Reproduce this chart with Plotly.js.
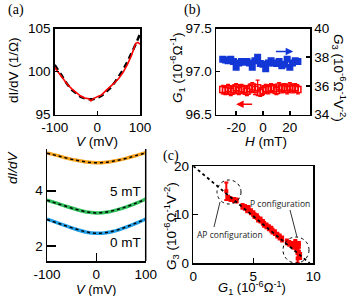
<!DOCTYPE html>
<html><head><meta charset="utf-8">
<script src="https://cdn.plot.ly/plotly-3.0.1.min.js"></script>
<style>html,body{margin:0;padding:0;background:#fff}#c{width:352px;height:296px}</style>
</head><body><div id="c"></div>
<script>
// Panel (a): dI/dV vs V
const aV = [-100,-90,-80,-70,-60,-50,-40,-30,-20,-15,-10,0,10,20,30,40,50,60,70,80,90,95,100];
const aMeas = [100.5,99.8,99.1,98.5,98.0,97.6,97.2,96.95,96.85,96.6,96.85,97.1,97.3,97.8,98.2,98.7,99.2,99.9,100.8,101.9,103.3,103.4,103.2];
const aFitV = [-100,-90,-80,-70,-60,-50,-40,-30,-20,-10,0,10,20,30,40,50,60,70,80,90,100];
const aFit = [100.8,100.0,99.2,98.5,97.9,97.45,97.1,96.9,96.8,96.8,96.95,97.2,97.6,98.1,98.7,99.4,100.2,101.1,102.1,103.2,104.4];
const aXTicks = [-100,0,100], aXText = ["-100","0","100"];
const aYTicks = [95,100,105], aYText = ["95","100","105"];

// Panel (b): G1 and G3 vs H
const bH = [-30,-28,-26,-24,-22,-20,-18,-16,-14,-12,-10,-8,-6,-4,-2,0,2,4,6,8,10,12,14,16,18,20,22,24,26];
const bG1 = [96.79,96.78,96.80,96.77,96.79,96.81,96.78,96.80,96.79,96.77,96.80,96.82,96.79,96.81,96.76,96.78,96.80,96.79,96.81,96.80,96.78,96.82,96.80,96.81,96.79,96.82,96.80,96.81,96.79];
const bG1Err = [0.05,0.05,0.05,0.05,0.05,0.05,0.05,0.05,0.05,0.05,0.05,0.05,0.06,0.09,0.05,0.05,0.05,0.05,0.05,0.05,0.05,0.05,0.05,0.05,0.05,0.05,0.05,0.05,0.05];
const bG3 = [37.85,37.8,37.75,37.85,37.7,37.3,37.6,37.7,37.65,37.7,37.6,37.3,37.75,38.0,37.55,37.5,37.2,37.6,37.75,37.6,37.55,37.7,37.4,37.5,37.85,37.3,37.6,37.75,37.7];
const bXTicks = [-20,0,20], bXText = ["-20","0","20"];
const bY1Ticks = [96.5,97.0,97.5], bY1Text = ["96.5","97.0","97.5"];
const bY2Ticks = [34,36,38,40], bY2Text = ["34","36","38","40"];

// Lower-left: dI/dV curves at several fields
const cV = [-100,-80,-60,-40,-20,0,20,40,60,80,100];
const cBlue = [2.97,2.85,2.72,2.60,2.50,2.46,2.48,2.56,2.68,2.82,2.98];
const cBlueFit = [2.96,2.84,2.72,2.61,2.51,2.46,2.49,2.57,2.69,2.83,2.97];
const cGreen = [3.66,3.55,3.43,3.32,3.23,3.20,3.22,3.30,3.41,3.54,3.70];
const cGreenFit = [3.66,3.54,3.43,3.32,3.24,3.20,3.23,3.31,3.42,3.55,3.69];
const cOrange = [5.37,5.28,5.18,5.10,5.04,5.01,5.03,5.09,5.17,5.27,5.38];
const cOrangeFit = [5.36,5.27,5.18,5.10,5.04,5.01,5.03,5.09,5.17,5.27,5.37];
const cXTicks = [-100,0,100], cXText = ["-100","0","100"];
const cYTicks = [2,4], cYText = ["2","4"];

// Panel (c): G3 vs G1
const dG1 = [2.75,2.9,3.1,3.4,3.6,4.1,4.3,4.5,4.6,4.8,5.0,5.1,5.3,5.4,5.6,5.8,5.9,6.1,6.3,6.5,6.6,6.8,7.0,7.2,7.4,7.8,8.0,8.2,8.4,8.5,8.6,8.7,8.8,8.8,8.9,8.7];
const dG3 = [14.8,13.5,13.2,13.0,12.9,11.7,11.5,11.0,11.3,10.6,10.2,9.8,9.6,9.1,8.9,8.4,8.0,7.7,7.3,7.0,6.6,6.3,5.8,5.4,5.0,4.4,4.1,3.9,3.5,4.3,3.0,2.5,2.0,3.8,1.5,1.0];
const dG3Err = [1.8,0.4,0.4,0.4,0.4,0.5,0.5,0.5,0.5,0.5,0.5,0.5,0.5,0.5,0.5,0.5,0.5,0.5,0.5,0.5,0.5,0.5,0.5,0.5,0.5,0.5,0.5,0.5,0.5,0.5,0.5,0.6,0.6,0.6,0.6,0.9];
const dG1Err = [0.1,0.15,0.15,0.15,0.15,0.15,0.15,0.15,0.15,0.15,0.15,0.15,0.15,0.15,0.15,0.15,0.15,0.15,0.15,0.15,0.15,0.15,0.15,0.15,0.15,0.15,0.15,0.15,0.15,0.15,0.15,0.15,0.15,0.15,0.15,0.15];
const dFitG1 = [0, 9.7], dFitG3 = [20, 0];
const dXTicks = [0,5,10], dXText = ["0","5","10"];
const dYTicks = [0,10,20], dYText = ["0","10","20"];

const F = "Liberation Sans, Arial, sans-serif";
const tf = {family: F, size: 13.5, color: "#000"};
const titleF = {family: F, size: 13.5, color: "#000"};
const titleFs = {family: F, size: 13, color: "#000"};
function ax(extra) {
  return Object.assign({showgrid:false, zeroline:false, showline:true, linecolor:"#000", linewidth:1.5,
    ticks:"inside", ticklen:4, tickwidth:1.5, tickcolor:"#000", tickfont:tf, tickmode:"array", fixedrange:true}, extra);
}

const traces = [
  {x:aFitV, y:aFit, xaxis:"x", yaxis:"y", mode:"lines", line:{color:"#000", width:2.5, dash:"6px,4px"}},
  {x:aV, y:aMeas, xaxis:"x", yaxis:"y", mode:"lines", line:{color:"#ff0000", width:1.6}},

  {x:bH, y:bG3, xaxis:"x2", yaxis:"y5", mode:"markers", marker:{symbol:"square", size:7, color:"#1336d6"}},
  {x:bH, y:bG1, xaxis:"x2", yaxis:"y2", mode:"markers",
    marker:{symbol:"square-open", size:6, color:"#ff0000", line:{width:1.5}},
    error_y:{type:"data", array:bG1Err, visible:true, color:"#ff0000", thickness:1.2, width:2}},

  {x:cV, y:cOrange, xaxis:"x3", yaxis:"y3", mode:"lines", line:{color:"#f5a21c", width:3.5, shape:"spline"}},
  {x:cV, y:cOrangeFit, xaxis:"x3", yaxis:"y3", mode:"lines", line:{color:"#000", width:1.5, dash:"3px,3px", shape:"spline"}},
  {x:cV, y:cGreen, xaxis:"x3", yaxis:"y3", mode:"lines", line:{color:"#2fbf5a", width:3.5, shape:"spline"}},
  {x:cV, y:cGreenFit, xaxis:"x3", yaxis:"y3", mode:"lines", line:{color:"#000", width:1.5, dash:"3px,3px", shape:"spline"}},
  {x:cV, y:cBlue, xaxis:"x3", yaxis:"y3", mode:"lines", line:{color:"#229fe6", width:3.5, shape:"spline"}},
  {x:cV, y:cBlueFit, xaxis:"x3", yaxis:"y3", mode:"lines", line:{color:"#000", width:1.5, dash:"3px,3px", shape:"spline"}},

  {x:dG1, y:dG3, xaxis:"x4", yaxis:"y4", mode:"markers",
    marker:{symbol:"square", size:4, color:"#ff0000"},
    error_y:{type:"data", array:dG3Err, visible:true, color:"#ff0000", thickness:2, width:2},
    error_x:{type:"data", array:dG1Err, visible:true, color:"#ff0000", thickness:2, width:0}},
  {x:dFitG1, y:dFitG3, xaxis:"x4", yaxis:"y4", mode:"lines", line:{color:"#000", width:1.8, dash:"dot"}}
];

function P(px, py){ return {x:px/352, y:1-py/296}; }
function ann(px, py, text, extra){
  const p = P(px, py);
  return Object.assign({xref:"paper", yref:"paper", x:p.x, y:p.y, text:text, showarrow:false,
    xanchor:"center", yanchor:"middle", font:titleF}, extra||{});
}
const it = s => "<i>"+s+"</i>";
const serif = {family:"Liberation Serif, Times New Roman, serif", size:14, color:"#000"};
const smallF = {family:"Open Sans, Noto Sans, sans-serif", size:8.5, color:"#222"};

const layout = {
  width:352, height:296, margin:{l:0,r:0,t:0,b:0}, showlegend:false,
  paper_bgcolor:"#fff", plot_bgcolor:"#fff",
  xaxis: ax({domain:[54.7/352,140/352], anchor:"y", range:[-100,100], mirror:true, tickvals:aXTicks, ticktext:aXText}),
  yaxis: ax({domain:[1-114.7/296,1-28.7/296], anchor:"x", range:[95,105], mirror:true, tickvals:aYTicks, ticktext:aYText}),
  xaxis2: ax({domain:[216/352,310/352], anchor:"y2", range:[-35,35], mirror:true, tickvals:bXTicks, ticktext:bXText}),
  yaxis2: ax({domain:[1-114.5/296,1-28.5/296], anchor:"x2", range:[96.5,97.5], tickvals:bY1Ticks, ticktext:bY1Text}),
  yaxis5: ax({overlaying:"y2", side:"right", anchor:"x2", range:[34,40], tickvals:bY2Ticks, ticktext:bY2Text}),
  xaxis3: ax({domain:[47/352,145.7/352], anchor:"y3", range:[-100,100], ticklen:8, tickvals:cXTicks, ticktext:cXText}),
  yaxis3: ax({domain:[1-261/296,1-149/296], anchor:"x3", range:[1.46,5.51], ticklen:9, tickvals:cYTicks, ticktext:cYText}),
  xaxis4: ax({domain:[193.3/352,313.3/352], anchor:"y4", range:[0,10], mirror:true, ticklen:5, tickvals:dXTicks, ticktext:dXText}),
  yaxis4: ax({domain:[1-263.3/296,1-166/296], anchor:"x4", range:[0,20], mirror:true, ticklen:5, tickvals:dYTicks, ticktext:dYText}),
  shapes:[
    {type:"line", xref:"x3 domain", yref:"y3 domain", x0:1, x1:1, y0:0, y1:1, line:{color:"#000", width:1.5}},
    {type:"circle", xref:"paper", yref:"paper", x0:217/352, x1:241/352, y0:1-204/296, y1:1-180/296, line:{color:"#000", width:1, dash:"dot"}},
    {type:"circle", xref:"paper", yref:"paper", x0:283/352, x1:309/352, y0:1-263/296, y1:1-237/296, line:{color:"#000", width:1, dash:"dot"}},
    {type:"line", xref:"paper", yref:"paper", x0:290/352, y0:1-210/296, x1:297/352, y1:1-237/296, line:{color:"#333", width:1}},
    {type:"line", xref:"paper", yref:"paper", x0:220/352, y0:1-202/296, x1:214/352, y1:1-227/296, line:{color:"#333", width:1}}
  ],
  annotations:[
    ann(16,10,"(a)",{font:serif}),
    ann(192,10,"(b)",{font:serif}),
    ann(171,156,"(c)",{font:serif}),
    ann(13,70,"dI/dV (1/Ω)",{textangle:-90}),
    ann(97,141,it("V")+" (mV)"),
    ann(177,68,it("G")+"<sub>1</sub> (10<sup>-6</sup>Ω<sup>-1</sup>)",{textangle:-90}),
    ann(339,78,it("G")+"<sub>3</sub> (10<sup>-6</sup>Ω<sup>-1</sup>V<sup>-2</sup>)",{textangle:90}),
    ann(266,141,it("H")+" (mT)"),
    ann(12,167,it("dI/dV"),{textangle:-90}),
    ann(96,289,it("V")+" (mV)",{font:titleFs}),
    ann(252,288,it("G")+"<sub>1</sub> (10<sup>-6</sup>Ω<sup>-1</sup>)",{font:titleFs}),
    ann(171,226,it("G")+"<sub>3</sub> (10<sup>-6</sup>Ω<sup>-1</sup>V<sup>-2</sup>)",{textangle:-90}),
    ann(143,191,"5 mT",{xanchor:"right"}),
    ann(143,242,"0 mT",{xanchor:"right"}),
    ann(280,203,"P configuration",{font:smallF}),
    ann(230,234,"AP configuration",{font:smallF}),
    {xref:"x2", yref:"y2", axref:"x2", ayref:"y2", x:-20, y:96.62, ax:-7, ay:96.62, text:"", showarrow:true,
      arrowhead:2, arrowsize:1, arrowwidth:1.5, arrowcolor:"#ff0000"},
    {xref:"x2", yref:"y5", axref:"x2", ayref:"y5", x:22.5, y:38.4, ax:8.5, ay:38.4, text:"", showarrow:true,
      arrowhead:2, arrowsize:1, arrowwidth:1.5, arrowcolor:"#1336d6"}
  ]
};
Plotly.newPlot("c", traces, layout, {staticPlot:true, displayModeBar:false});
</script></body></html>
